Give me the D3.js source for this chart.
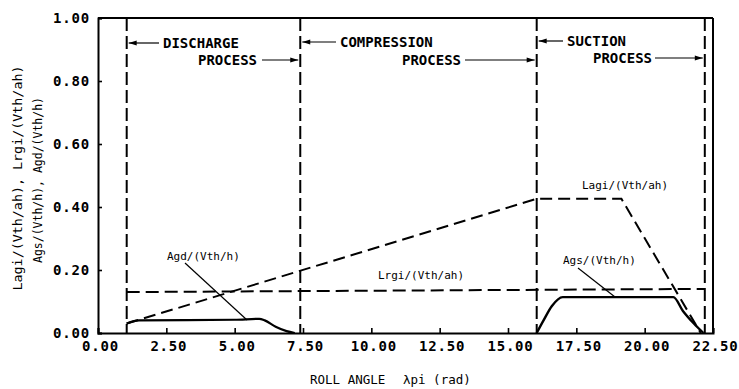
<!DOCTYPE html>
<html><head><meta charset="utf-8">
<script src="https://cdn.jsdelivr.net/npm/d3@7"></script>
<style>
body{margin:0;background:#fff;}
text{font-family:"DejaVu Sans Mono","Liberation Mono",monospace;fill:#000;}
</style></head>
<body><svg id="c" width="739" height="389"></svg>
<script>
// ---- data ----
const xTicks = [0, 2.5, 5, 7.5, 10, 12.5, 15, 17.5, 20, 22.5];
const yTicks = [0, 0.2, 0.4, 0.6, 0.8, 1.0];
const processBounds = [1.05, 7.4, 16.05, 22.2];
const processNames = ["DISCHARGE", "COMPRESSION", "SUCTION"];
const lagiX = [1.05, 16.05, 19.15, 22.05];
const lagiY = [0.03, 0.426, 0.426, 0.0];
const lrgiX = [1.05, 22.2];
const lrgiY = [0.13, 0.14];
const agdX = [1.05, 1.5, 5.0, 5.9, 6.1, 6.5, 6.9, 7.2];
const agdY = [0.03, 0.04, 0.042, 0.045, 0.04, 0.02, 0.006, 0.0];
const agsX = [16.05, 16.3, 16.6, 17.0, 21.05, 21.4, 21.8, 22.15];
const agsY = [0.0, 0.04, 0.085, 0.114, 0.114, 0.07, 0.03, 0.0];

const svg = d3.select("#c");
const L = 98, R = 713, T = 18, B = 333;
const x = d3.scaleLinear().domain([0, 22.5]).range([L, R]);
const y = d3.scaleLinear().domain([0, 1]).range([B, T]);

// axes
const xa = svg.append("g").attr("transform", `translate(0,${B})`)
  .call(d3.axisBottom(x).tickValues(xTicks).tickSize(-5).tickPadding(8).tickFormat(d3.format(".2f")));
const ya = svg.append("g").attr("transform", `translate(${L},0)`)
  .call(d3.axisLeft(y).tickValues(yTicks).tickSize(-4).tickPadding(8).tickFormat(d3.format(".2f")));
[xa, ya].forEach(a => {
  a.selectAll("path.domain").attr("stroke", "#000").attr("stroke-width", 2);
  a.selectAll(".tick line").attr("stroke", "#000").attr("stroke-width", 1.6);
  a.selectAll("text").attr("font-size", 14).attr("letter-spacing", 0.8).attr("font-weight", "bold")
    .style("font-family", "'DejaVu Sans Mono',monospace");
});
xa.selectAll(".tick text").attr("dx", 2);
// frame top/right
svg.append("line").attr("x1", L).attr("x2", R).attr("y1", T).attr("y2", T).attr("stroke", "#000").attr("stroke-width", 2);
svg.append("line").attr("x1", R).attr("x2", R).attr("y1", T).attr("y2", B).attr("stroke", "#000").attr("stroke-width", 2);

// process boundaries
svg.selectAll("line.pb").data(processBounds).enter().append("line")
  .attr("x1", d => x(d)).attr("x2", d => x(d)).attr("y1", T).attr("y2", B)
  .attr("stroke", "#000").attr("stroke-width", 2).attr("stroke-dasharray", "13,5");

const line = d3.line().x(d => x(d[0])).y(d => y(d[1]));
const zip = (a, b) => a.map((v, i) => [v, b[i]]);
svg.append("path").attr("d", line(zip(lagiX, lagiY))).attr("fill", "none")
  .attr("stroke", "#000").attr("stroke-width", 2).attr("stroke-dasharray", "12,6");
svg.append("path").attr("d", line(zip(lrgiX, lrgiY))).attr("fill", "none")
  .attr("stroke", "#000").attr("stroke-width", 2).attr("stroke-dasharray", "13,6");
const curve = d3.line().x(d => x(d[0])).y(d => y(d[1])).curve(d3.curveMonotoneX);
svg.append("path").attr("d", curve(zip(agdX, agdY))).attr("fill", "none")
  .attr("stroke", "#000").attr("stroke-width", 2.2);
svg.append("path").attr("d", curve(zip(agsX, agsY))).attr("fill", "none")
  .attr("stroke", "#000").attr("stroke-width", 2.4);

// process annotations
function arrowHead(px, py, dir) {
  svg.append("path").attr("d", `M${px},${py} l${-dir*8},-2.5 l0,5 z`).attr("fill", "#000");
}
const topY = [43, 42, 41], botY = [60, 60, 58];
const nameX = [163, 340, 567], procX = [198, 402, 593], procEnd = [262, 465, 655];
processNames.forEach((n, i) => {
  const x0 = x(processBounds[i]), x1 = x(processBounds[i + 1]);
  svg.append("line").attr("x1", x0 + 2).attr("x2", nameX[i] - 4).attr("y1", topY[i]).attr("y2", topY[i])
    .attr("stroke", "#000").attr("stroke-width", 1.2);
  arrowHead(x0 + 2, topY[i], -1);
  svg.append("text").attr("x", nameX[i]).attr("y", topY[i] + 5).attr("font-size", 14).attr("font-weight", "bold").text(n);
  svg.append("text").attr("x", procX[i]).attr("y", botY[i] + 5).attr("font-size", 14).attr("font-weight", "bold").text("PROCESS");
  svg.append("line").attr("x1", procEnd[i]).attr("x2", x1 - 2).attr("y1", botY[i]).attr("y2", botY[i])
    .attr("stroke", "#000").attr("stroke-width", 1.2);
  arrowHead(x1 - 2, botY[i], 1);
});

// curve labels
const lab = (tx, ty, s) => svg.append("text").attr("x", tx).attr("y", ty).attr("font-size", 11).text(s);
lab(167, 260, "Agd/(Vth/h)");
svg.append("line").attr("x1", 185).attr("y1", 263).attr("x2", 247).attr("y2", 320).attr("stroke", "#000").attr("stroke-width", 1.2);
lab(378, 279, "Lrgi/(Vth/ah)");
lab(582, 189, "Lagi/(Vth/ah)");
lab(563, 264, "Ags/(Vth/h)");
svg.append("line").attr("x1", 578).attr("y1", 268).attr("x2", 615).attr("y2", 297).attr("stroke", "#000").attr("stroke-width", 1.2);

// axis titles
svg.append("text").attr("transform", "translate(22,178) rotate(-90)").attr("text-anchor", "middle")
  .attr("font-size", 13).attr("textLength", 225).attr("lengthAdjust", "spacingAndGlyphs").text("Lagi/(Vth/ah), Lrgi/(Vth/ah)");
svg.append("text").attr("transform", "translate(42,180) rotate(-90)").attr("text-anchor", "middle")
  .attr("font-size", 13).attr("textLength", 166).attr("lengthAdjust", "spacingAndGlyphs").text("Ags/(Vth/h), Agd/(Vth/h)");
const xt = svg.append("text").attr("y", 384).attr("font-size", 12.5);
xt.append("tspan").attr("x", 310).text("ROLL ANGLE");
xt.append("tspan").attr("x", 403).text("λpi (rad)");
</script></body></html>
